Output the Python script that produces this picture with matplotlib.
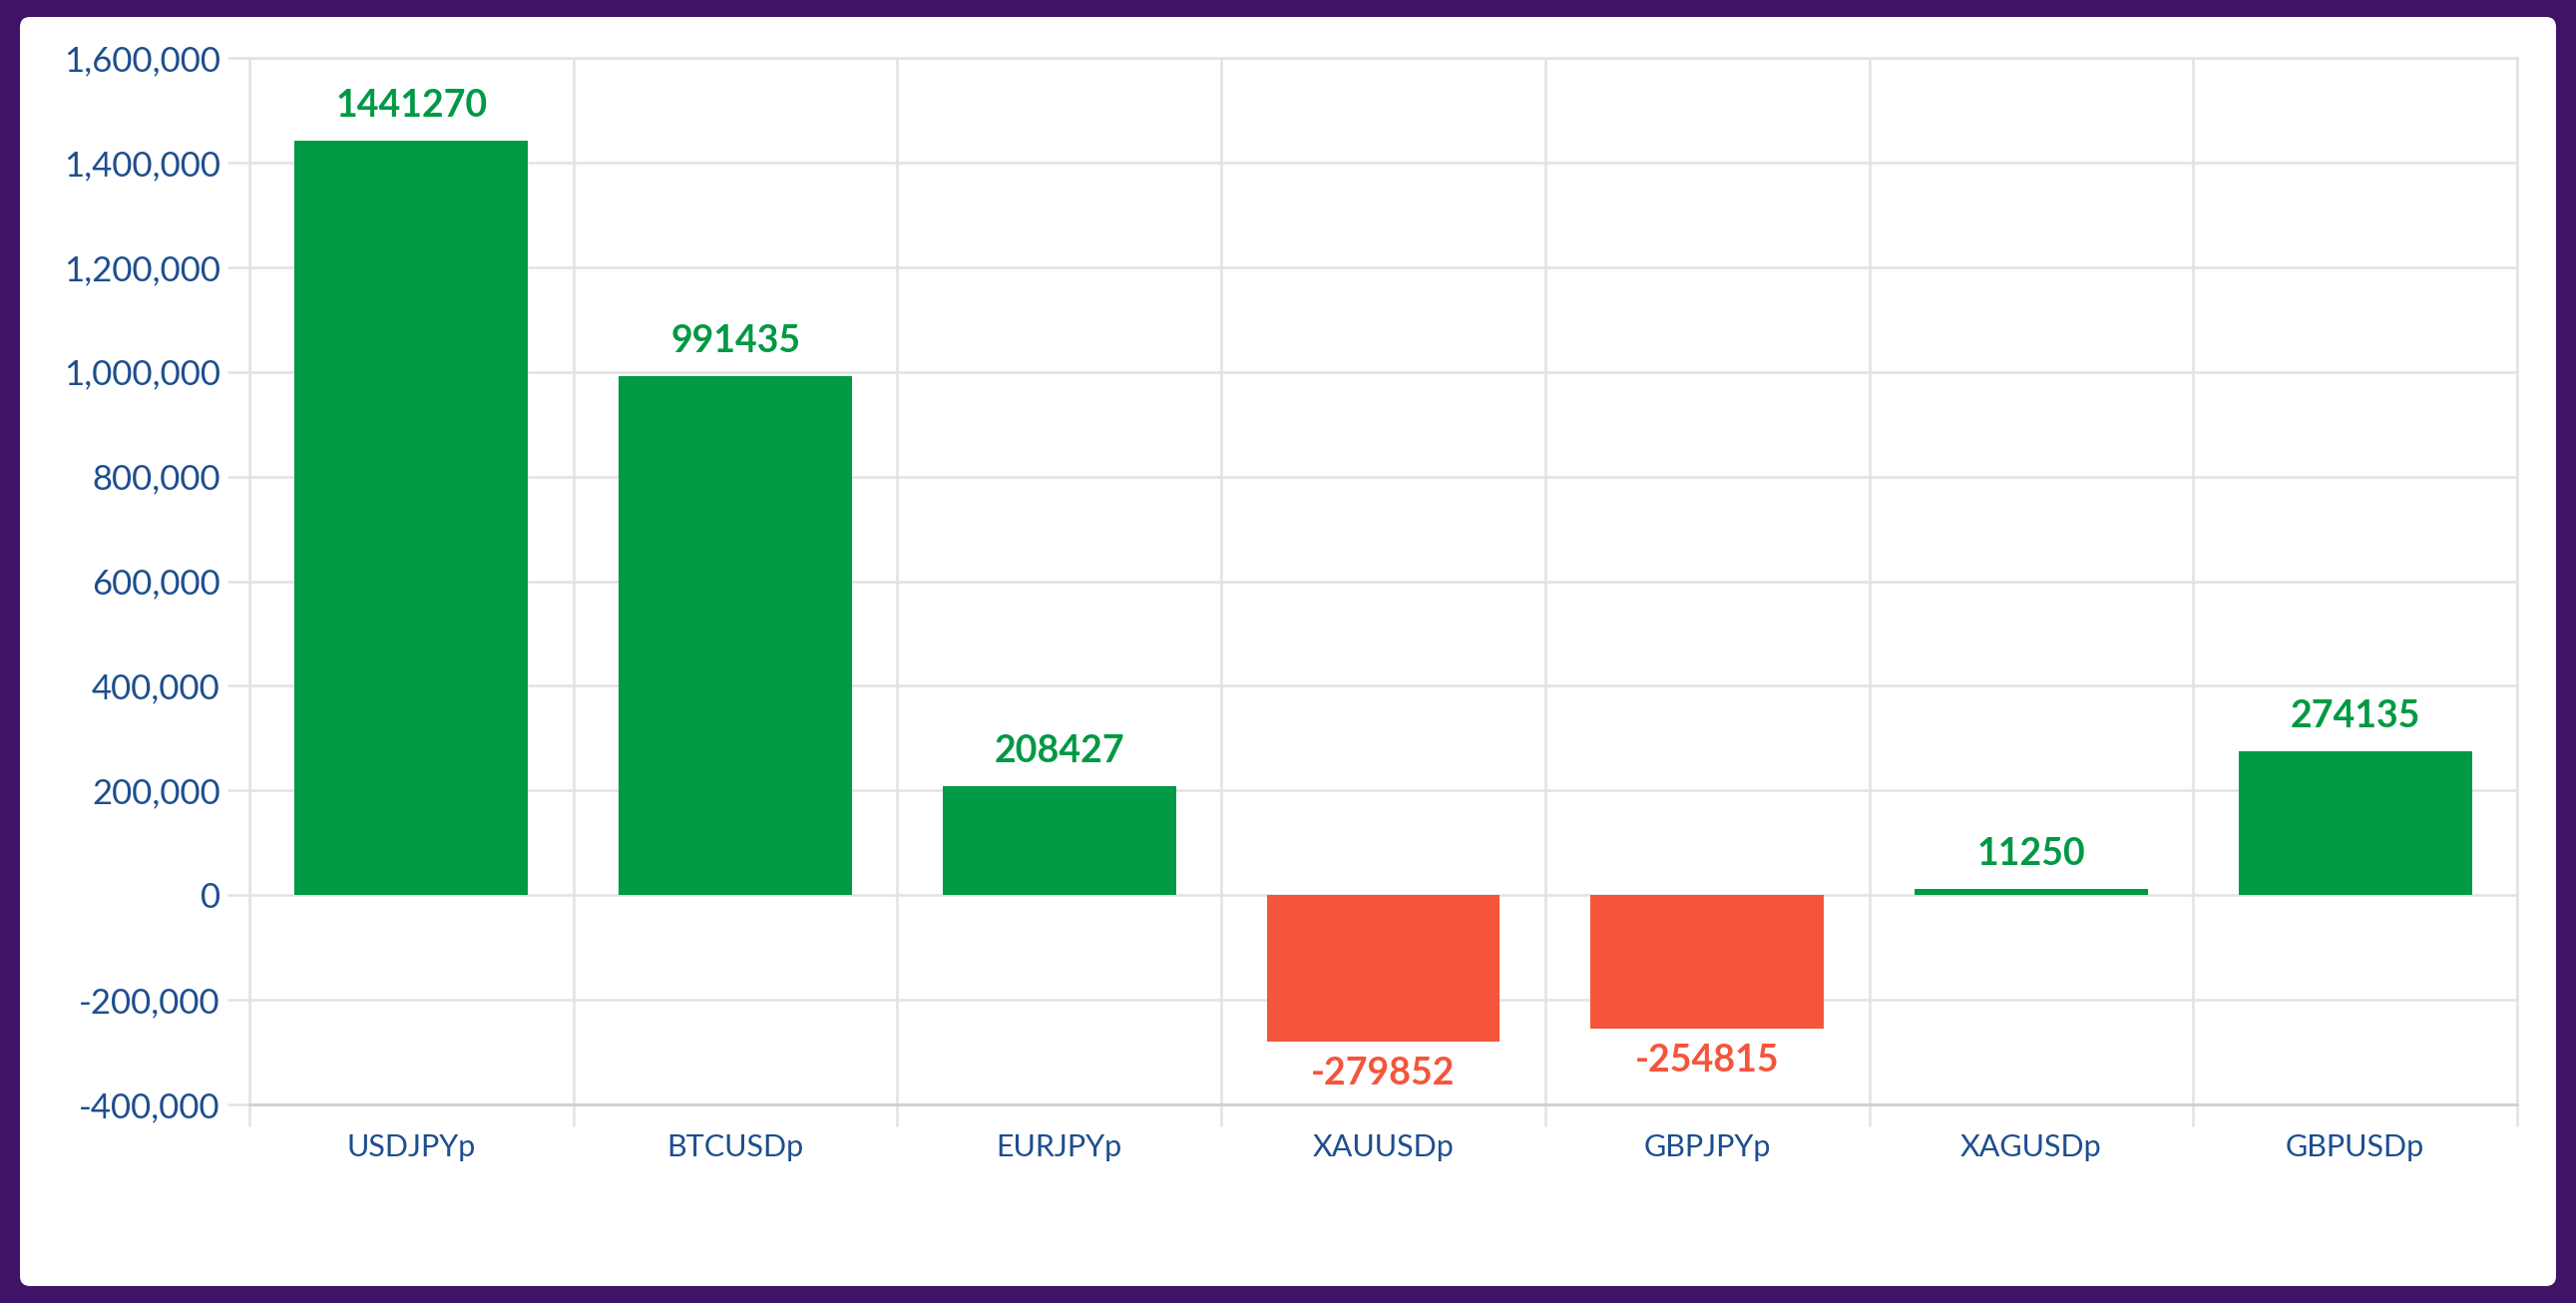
import numpy as np
import matplotlib.pyplot as plt
from matplotlib.patches import FancyBboxPatch
from matplotlib.transforms import IdentityTransform
from matplotlib.ticker import FuncFormatter, MultipleLocator

symbols = ['USDJPYp', 'BTCUSDp', 'EURJPYp', 'XAUUSDp', 'GBPJPYp', 'XAGUSDp', 'GBPUSDp']
profit = [1441270, 991435, 208427, -279852, -254815, 11250, 274135]

green = '#009944'
red = '#f5553b'
blue = '#1d4e8f'
purple = '#3f1366'

fig = plt.figure(figsize=(25.82, 13.06), dpi=100)
fig.patch.set_facecolor(purple)

# white rounded panel (pixel units)
panel = FancyBboxPatch((20, 17), 2562 - 20, 1289 - 17,
                       boxstyle='round,pad=0,rounding_size=10',
                       transform=IdentityTransform(), facecolor='white', edgecolor='none', zorder=-5)
fig.patches.append(panel)

ax = fig.add_axes([250 / 2582, 1 - 1107 / 1306, (2523 - 250) / 2582, (1107 - 58) / 1306])
ax.set_facecolor('none')

x = np.arange(len(symbols))
cols = [green if v >= 0 else red for v in profit]
ax.bar(x, profit, width=0.72, color=cols, zorder=3)

for xi, v, c in zip(x, profit, cols):
    if v >= 0:
        ax.annotate(str(v), (xi, v), xytext=(0, 13), textcoords='offset points',
                    ha='center', va='bottom', color=c, fontsize=27, fontweight='bold', family='Lato')
    else:
        ax.annotate(str(v), (xi, v), xytext=(0, -11), textcoords='offset points',
                    ha='center', va='top', color=c, fontsize=27, fontweight='bold', family='Lato')

ax.set_xlim(-0.5, len(symbols) - 0.5)
ax.set_ylim(-400000, 1600000)
ax.yaxis.set_major_locator(MultipleLocator(200000))
ax.yaxis.set_major_formatter(FuncFormatter(lambda v, p: f'{int(v):,}'))
ax.set_xticks(x)
ax.set_xticklabels(symbols)
ax.set_xticks(np.arange(-0.5, len(symbols)), minor=True)

ax.grid(axis='y', which='major', color='#e2e2e2', linewidth=1.8, zorder=0)
ax.grid(axis='x', which='minor', color='#e2e2e2', linewidth=1.8, zorder=0)

ax.tick_params(axis='y', which='major', length=16, width=1.8, color='#e2e2e2',
               labelsize=25, labelcolor=blue, pad=5)
ax.tick_params(axis='x', which='major', length=0, labelsize=22, labelcolor=blue, pad=21)
ax.tick_params(axis='x', which='minor', length=16, width=1.8, color='#e2e2e2')
for lab in ax.get_yticklabels() + ax.get_xticklabels():
    lab.set_family('Lato')

for side in ['top', 'right', 'left']:
    ax.spines[side].set_color('#e2e2e2')
    ax.spines[side].set_linewidth(1.8)
ax.spines['bottom'].set_color('#cfcfcf')
ax.spines['bottom'].set_linewidth(2)

fig.savefig('out.png', dpi=100, facecolor=fig.get_facecolor())
